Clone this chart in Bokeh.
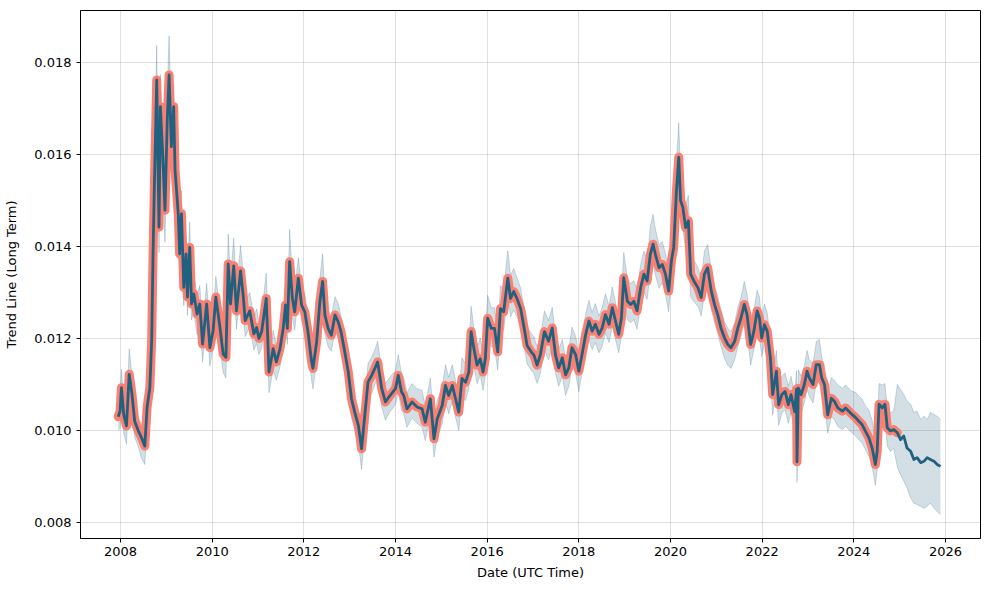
from bokeh.plotting import figure
from bokeh.models import Range1d, FixedTicker, NumeralTickFormatter, ColumnDataSource
from bokeh.embed import file_html
from bokeh.resources import INLINE

# ---------------- data (values in units of 1e-5) ----------------
hist_years = [
    2007.95, 2007.99, 2008.02, 2008.07, 2008.13, 2008.19, 2008.25, 2008.31, 2008.39, 2008.46, 2008.53,
    2008.58, 2008.64, 2008.68, 2008.71, 2008.74, 2008.79, 2008.84, 2008.87, 2008.92, 2008.97,
    2009.02, 2009.06, 2009.11, 2009.16, 2009.19, 2009.26, 2009.29, 2009.33, 2009.38, 2009.43,
    2009.46, 2009.51, 2009.55, 2009.60, 2009.67, 2009.73, 2009.79, 2009.88, 2009.95,
    2010.02, 2010.08, 2010.17, 2010.24, 2010.30, 2010.35, 2010.40, 2010.47, 2010.53, 2010.62,
    2010.68, 2010.72, 2010.82, 2010.91, 2010.97,
    2011.02, 2011.08, 2011.18, 2011.24, 2011.33, 2011.40, 2011.48, 2011.55, 2011.60, 2011.64,
    2011.69, 2011.75, 2011.80, 2011.88, 2011.95,
    2012.02, 2012.09, 2012.17, 2012.20, 2012.28, 2012.35, 2012.41, 2012.46, 2012.53, 2012.60,
    2012.68, 2012.75, 2012.81, 2012.88, 2012.97,
    2013.04, 2013.11, 2013.19, 2013.26, 2013.33, 2013.40, 2013.48, 2013.55, 2013.61, 2013.70,
    2013.78, 2013.88,
    2014.00, 2014.06, 2014.13, 2014.18, 2014.25, 2014.36, 2014.47, 2014.58, 2014.65, 2014.76,
    2014.84, 2014.91,
    2015.02, 2015.09, 2015.16, 2015.24, 2015.31, 2015.38, 2015.45, 2015.53, 2015.60, 2015.65,
    2015.71, 2015.78, 2015.85, 2015.91, 2015.96,
    2016.01, 2016.09, 2016.16, 2016.23, 2016.29, 2016.36, 2016.45, 2016.51, 2016.58, 2016.65,
    2016.73, 2016.82, 2016.87, 2016.96,
    2017.02, 2017.09, 2017.16, 2017.25, 2017.34, 2017.42, 2017.49, 2017.56, 2017.64, 2017.71,
    2017.78, 2017.85, 2017.93,
    2018.00, 2018.07, 2018.15, 2018.22, 2018.29, 2018.36, 2018.44, 2018.51, 2018.58, 2018.66,
    2018.73, 2018.80, 2018.87, 2018.93, 2018.98,
    2019.06, 2019.13, 2019.20, 2019.27, 2019.35, 2019.42, 2019.49, 2019.56, 2019.62, 2019.67,
    2019.75, 2019.82, 2019.89, 2019.96,
    2020.02, 2020.07, 2020.13, 2020.18, 2020.22, 2020.27, 2020.33, 2020.39, 2020.44, 2020.51,
    2020.60, 2020.67, 2020.74, 2020.81, 2020.89, 2020.96,
    2021.03, 2021.10, 2021.18, 2021.25, 2021.32, 2021.40, 2021.47, 2021.54, 2021.61, 2021.67,
    2021.75, 2021.82, 2021.89, 2021.94, 2021.99,
    2022.05, 2022.11, 2022.18, 2022.23, 2022.31, 2022.36, 2022.43, 2022.50, 2022.57, 2022.63,
    2022.71, 2022.75, 2022.76, 2022.79, 2022.85, 2022.92, 2022.98,
    2023.03, 2023.11, 2023.18, 2023.25, 2023.30, 2023.36, 2023.43, 2023.51, 2023.58, 2023.65,
    2023.75, 2023.82, 2023.89, 2023.96,
    2024.04, 2024.11, 2024.18, 2024.25, 2024.33, 2024.40, 2024.47, 2024.51, 2024.55, 2024.62,
    2024.68, 2024.73, 2024.80, 2024.87, 2024.95,
]
hist_trend = [
    1030, 1042, 1093, 1035, 1010, 1122, 1079, 1020, 999, 984, 966,
    1050, 1093, 1195, 1384, 1537, 1762, 1442, 1704, 1602, 1479,
    1675, 1773, 1617, 1704, 1566, 1471, 1384, 1471, 1311, 1384,
    1290, 1398, 1275, 1297, 1253, 1275, 1188, 1275, 1180,
    1217, 1290, 1224, 1166, 1159, 1362, 1275, 1358, 1260, 1347,
    1290, 1239, 1260, 1210, 1224,
    1200, 1215, 1287, 1127, 1178, 1149, 1178, 1222, 1273, 1222,
    1367, 1287, 1258, 1331, 1273,
    1258, 1215, 1149, 1135, 1193, 1280, 1324, 1251, 1222, 1207,
    1251, 1236, 1215, 1178, 1127,
    1069, 1040, 1011, 960, 1033, 1105, 1120, 1135, 1149, 1091,
    1062, 1076,
    1091, 1120, 1084, 1076, 1047, 1062, 1051, 1047, 1018, 1069,
    982, 1025,
    1055, 1098, 1076, 1098, 1069, 1040, 1113, 1105, 1127, 1215,
    1178, 1142, 1156, 1127, 1156,
    1244, 1222, 1222, 1171, 1265, 1258, 1331, 1287, 1302, 1287,
    1265, 1215, 1185, 1171,
    1164, 1142, 1164, 1215, 1194, 1223, 1165, 1136, 1158, 1121,
    1136, 1180, 1165,
    1129, 1165, 1209, 1238, 1216, 1231, 1209, 1223, 1252, 1231,
    1267, 1238, 1209, 1245, 1332,
    1281, 1274, 1281, 1260, 1311, 1340, 1325, 1383, 1405, 1383,
    1354, 1361, 1340, 1303,
    1369, 1398, 1521, 1594, 1500, 1485, 1441, 1456, 1340, 1325,
    1310, 1289, 1340, 1354, 1303, 1274,
    1252, 1223, 1201, 1187, 1180, 1194, 1223, 1245, 1274, 1252,
    1187, 1216, 1260, 1245, 1201,
    1230, 1216, 1158, 1078, 1129, 1056, 1078, 1085, 1056, 1078,
    1041, 1090, 932, 1092, 1078, 1100, 1129,
    1114, 1100, 1143, 1143, 1114, 1100, 1034, 1070, 1063, 1049,
    1042, 1049, 1042, 1035,
    1028, 1020, 1013, 999, 984, 962, 926, 955, 1057, 1049,
    1057, 1006, 999, 1002, 995,
]
hist_band_up = [
    30, 35, 40, 30, 35, 55, 40, 30, 30, 30, 25,
    35, 40, 45, 50, 55, 75, 60, 70, 50, 55,
    60, 85, 60, 50, 55, 60, 45, 50, 45, 40,
    50, 55, 40, 45, 40, 40, 35, 45, 40,
    40, 45, 40, 35, 40, 65, 50, 60, 45, 55,
    45, 40, 40, 35, 40,
    35, 40, 55, 35, 40, 35, 40, 40, 45, 40,
    70, 50, 45, 45, 40,
    40, 35, 35, 35, 40, 50, 60, 45, 40, 40,
    40, 40, 35, 35, 35,
    35, 35, 30, 35, 40, 40, 40, 40, 45, 40,
    40, 40,
    40, 45, 40, 40, 35, 40, 40, 40, 35, 45,
    35, 40,
    40, 45, 40, 45, 40, 35, 45, 40, 45, 55,
    45, 40, 45, 40, 45,
    50, 45, 45, 40, 50, 50, 60, 50, 50, 45,
    45, 40, 40, 40,
    40, 40, 40, 45, 45, 45, 40, 40, 40, 35,
    40, 45, 40,
    40, 45, 45, 45, 40, 45, 40, 45, 45, 40,
    45, 40, 40, 45, 55,
    50, 45, 45, 45, 50, 50, 45, 60, 65, 55,
    50, 50, 45, 45,
    50, 50, 60, 75, 55, 50, 50, 55, 45, 45,
    45, 40, 50, 50, 45, 40,
    40, 40, 35, 35, 35, 40, 45, 45, 50, 45,
    40, 45, 45, 45, 40,
    45, 40, 40, 35, 45, 40, 40, 40, 40, 40,
    35, 40, 30, 40, 40, 40, 45,
    40, 45, 50, 55, 45, 40, 45, 45, 45, 50,
    50, 50, 50, 50,
    55, 55, 55, 55, 60, 60, 55, 50, 45, 50,
    45, 40, 40, 40, 105,
]
hist_band_dn = [
    30, 35, 35, 40, 40, 35, 40, 35, 35, 45, 40,
    40, 35, 40, 45, 45, 50, 55, 50, 60, 70,
    50, 60, 50, 50, 55, 45, 40, 40, 40, 35,
    40, 40, 35, 40, 45, 40, 40, 35, 40,
    35, 40, 45, 40, 45, 40, 40, 35, 40, 40,
    40, 35, 35, 35, 35,
    35, 35, 35, 45, 45, 40, 40, 35, 40, 35,
    40, 40, 40, 40, 35,
    35, 40, 40, 45, 40, 35, 35, 40, 40, 35,
    35, 35, 35, 40, 40,
    40, 40, 40, 45, 40, 35, 40, 35, 35, 40,
    40, 35,
    35, 35, 40, 40, 40, 35, 35, 40, 40, 35,
    40, 40,
    40, 35, 40, 35, 40, 40, 40, 40, 35, 40,
    40, 40, 35, 40, 35,
    40, 40, 40, 40, 35, 40, 40, 40, 40, 40,
    40, 40, 40, 40,
    40, 40, 40, 40, 40, 40, 40, 40, 40, 45,
    40, 40, 40,
    45, 40, 40, 40, 40, 40, 40, 40, 40, 40,
    40, 40, 40, 40, 40,
    40, 40, 40, 40, 40, 40, 40, 40, 45, 45,
    45, 40, 45, 45,
    40, 45, 50, 45, 50, 50, 45, 45, 50, 45,
    40, 40, 45, 40, 40, 40,
    40, 40, 45, 45, 45, 40, 40, 40, 40, 40,
    45, 40, 40, 40, 40,
    40, 40, 45, 45, 40, 45, 40, 40, 40, 40,
    45, 40, 45, 40, 40, 40, 40,
    40, 40, 40, 40, 40, 40, 40, 40, 40, 40,
    40, 40, 40, 40,
    40, 40, 40, 40, 40, 40, 45, 40, 35, 40,
    35, 40, 45, 40, 75,
]

fc_years = [2025.02, 2025.09, 2025.16, 2025.24, 2025.31, 2025.38, 2025.46,
            2025.53, 2025.60, 2025.67, 2025.75, 2025.82, 2025.89]
fc_trend = [980, 988, 962, 955, 937, 941, 930, 933, 941, 937, 933, 926, 922]
fc_band_up = [109, 91, 102, 102, 102, 101, 94, 98, 83, 102, 102, 105, 102]
fc_band_dn = [76, 98, 87, 102, 95, 102, 95, 102, 106, 95, 102, 102, 105]

x_ticks = [2008, 2010, 2012, 2014, 2016, 2018, 2020, 2022, 2024, 2026]
y_ticks = [0.008, 0.010, 0.012, 0.014, 0.016, 0.018]

for name, arr in [("trend", hist_trend), ("up", hist_band_up), ("dn", hist_band_dn)]:
    if len(arr) != len(hist_years):
        raise ValueError(f"{name}: {len(arr)} vs {len(hist_years)}")

UNIT = 1e-5
all_years = hist_years + fc_years
all_trend = [v * UNIT for v in hist_trend + fc_trend]
all_up = [(t + u) * UNIT for t, u in zip(hist_trend + fc_trend, hist_band_up + fc_band_up)]
all_dn = [(t - d) * UNIT for t, d in zip(hist_trend + fc_trend, hist_band_dn + fc_band_dn)]

band_src = ColumnDataSource(dict(x=all_years, lo=all_dn, hi=all_up, y=all_trend))
hist_src = ColumnDataSource(dict(x=hist_years, y=[v * UNIT for v in hist_trend]))

# ---------------- figure ----------------
p = figure(width=985, height=586, output_backend="svg", toolbar_location=None,
           x_range=Range1d(2007.127, 2026.764), y_range=Range1d(0.007652, 0.019130),
           min_border_left=80, min_border_right=5, min_border_top=10, min_border_bottom=48)
p.background_fill_color = "white"
p.border_fill_color = "white"
p.outline_line_color = "black"
p.outline_line_width = 1
p.outline_line_alpha = 1

BLUE = "#22607f"
p.varea(x="x", y1="lo", y2="hi", source=band_src, fill_color=BLUE, fill_alpha=0.2)
p.line(x="x", y="hi", source=band_src, line_color=BLUE, line_alpha=0.22, line_width=1)
p.line(x="x", y="lo", source=band_src, line_color=BLUE, line_alpha=0.22, line_width=1)
p.line(x="x", y="y", source=hist_src, line_color="#fa8072", line_width=9,
       line_join="round", line_cap="round")
p.line(x="x", y="y", source=band_src, line_color=BLUE, line_width=2.8, line_join="round")

p.xaxis.ticker = FixedTicker(ticks=x_ticks)
p.yaxis.ticker = FixedTicker(ticks=y_ticks)
p.yaxis.formatter = NumeralTickFormatter(format="0.000")
p.xaxis.axis_label = "Date (UTC Time)"
p.yaxis.axis_label = "Trend Line (Long Term)"

for ax in (p.xaxis, p.yaxis):
    ax.major_label_text_font = "DejaVu Sans"
    ax.major_label_text_font_size = "13px"
    ax.major_label_text_color = "black"
    ax.axis_label_text_font = "DejaVu Sans"
    ax.axis_label_text_font_size = "13px"
    ax.axis_label_text_font_style = "normal"
    ax.axis_label_text_color = "black"
    ax.major_tick_in = 0
    ax.major_tick_out = 4
    ax.major_tick_line_color = "black"
    ax.minor_tick_line_color = None
    ax.axis_line_color = "black"
p.xaxis.major_label_standoff = 4
p.xaxis.axis_label_standoff = 6
p.yaxis.major_label_standoff = 5
p.yaxis.axis_label_standoff = 12

for g in (p.xgrid, p.ygrid):
    g.grid_line_color = "#b0b0b0"
    g.grid_line_alpha = 0.4
    g.grid_line_width = 1

open("out.html", "w").write(file_html(p, INLINE))
